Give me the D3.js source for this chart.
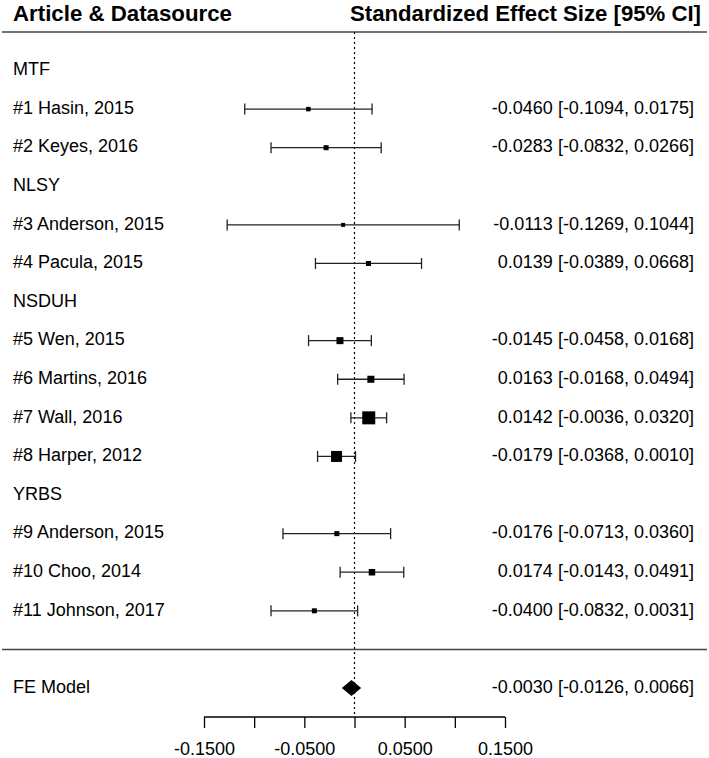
<!DOCTYPE html>
<html><head><meta charset="utf-8">
<script src="https://cdn.jsdelivr.net/npm/d3@7"></script>
<style>body{margin:0;background:#fff}svg{display:block}text{font-family:"Liberation Sans",Arial,sans-serif;fill:#000}</style>
</head><body>
<script>
// rows: group headers and studies
const rowLabels = ["MTF","#1 Hasin, 2015","#2 Keyes, 2016","NLSY","#3 Anderson, 2015","#4 Pacula, 2015","NSDUH","#5 Wen, 2015","#6 Martins, 2016","#7 Wall, 2016","#8 Harper, 2012","YRBS","#9 Anderson, 2015","#10 Choo, 2014","#11 Johnson, 2017"];
const estimates = [null,-0.0460,-0.0283,null,-0.0113,0.0139,null,-0.0145,0.0163,0.0142,-0.0179,null,-0.0176,0.0174,-0.0400];
const lowers    = [null,-0.1094,-0.0832,null,-0.1269,-0.0389,null,-0.0458,-0.0168,-0.0036,-0.0368,null,-0.0713,-0.0143,-0.0832];
const uppers    = [null,0.0175,0.0266,null,0.1044,0.0668,null,0.0168,0.0494,0.0320,0.0010,null,0.0360,0.0491,0.0031];
const weights   = [null,4.5,5,null,4,5,null,7,7,13,11,null,5,6.5,5];
const model = {label:"FE Model", est:-0.0030, lo:-0.0126, hi:0.0066};
const tickValues = [-0.15,-0.10,-0.05,0,0.05,0.10,0.15];
const tickLabels = [-0.15,-0.05,0.05,0.15];

const W=709,H=758;
const svg=d3.select("body").append("svg").attr("width",W).attr("height",H);
const x=d3.scaleLinear().domain([-0.15,0.15]).range([204,505]);
const y=d3.scaleLinear().domain([0,16]).range([70.5,688]);
const sz=d3.scaleLinear().domain([0,1]).range([0,1]);
const fmt=d3.formatLocale({decimal:".",thousands:",",grouping:[3],currency:["",""],minus:"-"}).format(".4f");
const axisY=717, FS=18, DY=4.7;

// header
svg.append("text").attr("x",13).attr("y",21).attr("font-size",22).attr("font-weight","bold")
  .attr("textLength",219).attr("lengthAdjust","spacingAndGlyphs").text("Article & Datasource");
svg.append("text").attr("x",701).attr("y",21).attr("text-anchor","end").attr("font-size",22).attr("font-weight","bold")
  .attr("textLength",351).attr("lengthAdjust","spacingAndGlyphs").text("Standardized Effect Size [95% CI]");

// horizontal rules
svg.append("line").attr("x1",2).attr("x2",707).attr("y1",y(-1)).attr("y2",y(-1)).attr("stroke","#444").attr("stroke-width",1.5);
svg.append("line").attr("x1",2).attr("x2",707).attr("y1",y(15)).attr("y2",y(15)).attr("stroke","#444").attr("stroke-width",1.5);

// reference line
svg.append("line").attr("x1",x(0)).attr("x2",x(0)).attr("y1",y(-1)).attr("y2",axisY)
  .attr("stroke","#000").attr("stroke-width",1.2).attr("stroke-dasharray","2,3");

// rows
rowLabels.forEach((lab,i)=>{
  const yy=y(i);
  svg.append("text").attr("x",13).attr("y",yy+DY).attr("font-size",FS).text(lab);
  if(estimates[i]===null) return;
  const g=svg.append("g").attr("stroke","#222").attr("stroke-width",1.3);
  g.append("line").attr("x1",x(lowers[i])).attr("x2",x(uppers[i])).attr("y1",yy).attr("y2",yy);
  g.append("line").attr("x1",x(lowers[i])).attr("x2",x(lowers[i])).attr("y1",yy-5.5).attr("y2",yy+5.5);
  g.append("line").attr("x1",x(uppers[i])).attr("x2",x(uppers[i])).attr("y1",yy-5.5).attr("y2",yy+5.5);
  const s=sz(weights[i]);
  svg.append("rect").attr("x",x(estimates[i])-s/2).attr("y",yy-s/2).attr("width",s).attr("height",s).attr("fill","#000");
  svg.append("text").attr("x",694).attr("y",yy+DY).attr("text-anchor","end").attr("font-size",FS)
    .text(`${fmt(estimates[i])} [${fmt(lowers[i])}, ${fmt(uppers[i])}]`);
});

// model
const ym=y(16);
svg.append("text").attr("x",13).attr("y",ym+DY).attr("font-size",FS).text(model.label);
svg.append("path").attr("d",`M${x(model.lo)},${ym}L${x(model.est)},${ym-8}L${x(model.hi)},${ym}L${x(model.est)},${ym+8}Z`).attr("fill","#000");
svg.append("text").attr("x",694).attr("y",ym+DY).attr("text-anchor","end").attr("font-size",FS)
  .text(`${fmt(model.est)} [${fmt(model.lo)}, ${fmt(model.hi)}]`);

// axis
const ax=svg.append("g").attr("transform",`translate(0,${axisY})`)
  .call(d3.axisBottom(x).tickValues(tickValues).tickSize(11).tickFormat(d=>tickLabels.some(t=>Math.abs(t-d)<1e-9)?fmt(d):""));
ax.select(".domain").attr("stroke","#000").attr("stroke-width",1.3).attr("d",`M${x(-0.15)},0H${x(0.15)}`);
ax.selectAll(".tick line").attr("stroke","#000").attr("stroke-width",1.3);
ax.selectAll(".tick text").attr("font-size",FS).attr("font-family","Liberation Sans, Arial, sans-serif").attr("fill","#000").attr("y",38).attr("dy",null);
</script>
</body></html>
